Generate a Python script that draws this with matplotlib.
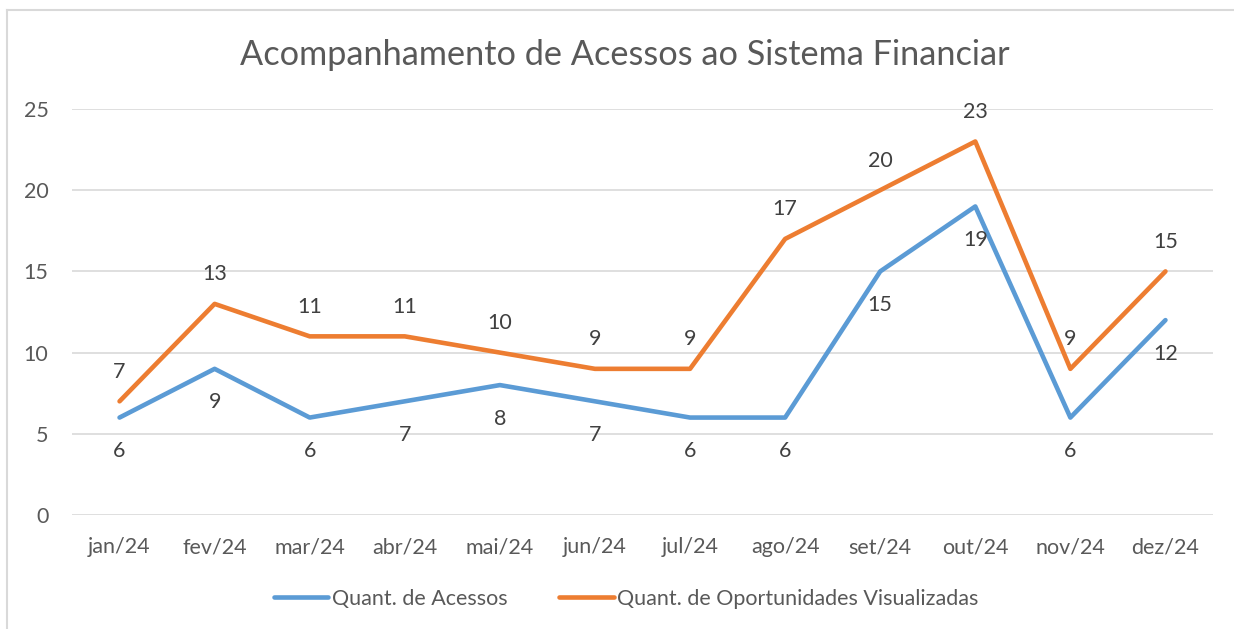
import matplotlib.pyplot as plt
from matplotlib.lines import Line2D

meses = ['jan/24', 'fev/24', 'mar/24', 'abr/24', 'mai/24', 'jun/24',
         'jul/24', 'ago/24', 'set/24', 'out/24', 'nov/24', 'dez/24']
acessos = [6, 9, 6, 7, 8, 7, 6, 6, 15, 19, 6, 12]
oportunidades = [7, 13, 11, 11, 10, 9, 9, 17, 20, 23, 9, 15]

azul = '#5B9BD5'
laranja = '#ED7D31'
cinza = '#595959'

plt.rcParams['font.family'] = ['Lato', 'DejaVu Sans']

fig = plt.figure(figsize=(12.34, 6.29), dpi=100)
ax = fig.add_axes([72 / 1234, 1 - 515 / 629, 1141 / 1234, 406 / 629])

x = list(range(len(meses)))
ax.plot(x, acessos, color=azul, lw=3.3, solid_capstyle='round',
        solid_joinstyle='round', label='Quant. de Acessos', zorder=3)
ax.plot(x, oportunidades, color=laranja, lw=3.3, solid_capstyle='round',
        solid_joinstyle='round', label='Quant. de Oportunidades Visualizadas', zorder=3)

for i in x:
    ax.annotate(str(acessos[i]), (i, acessos[i]), xytext=(0, -17), textcoords='offset points',
                ha='center', va='top', fontsize=15.5, color='#404040')
    ax.annotate(str(oportunidades[i]), (i, oportunidades[i]), xytext=(0, 14), textcoords='offset points',
                ha='center', va='bottom', fontsize=15.5, color='#404040')

ax.set_xlim(-0.5, 11.5)
ax.set_ylim(0, 25)
ax.set_yticks([0, 5, 10, 15, 20, 25])
ax.set_xticks(x)
ax.set_xticklabels(meses)
ax.grid(axis='y', color='#D9D9D9', lw=1.2, zorder=0)
for s in ax.spines.values():
    s.set_visible(False)
ax.tick_params(length=0, labelsize=15.5, colors=cinza, pad=16)
ax.tick_params(axis='y', pad=17)

fig.text(625 / 1234, 1 - 55 / 629, 'Acompanhamento de Acessos ao Sistema Financiar',
         ha='center', va='center', fontsize=24.7, color=cinza)

leg = fig.legend(loc='center', bbox_to_anchor=(626 / 1234, 1 - 599 / 629), ncol=2, frameon=False,
                 fontsize=15.5, handlelength=2.55, handletextpad=0.15, columnspacing=2.4)
for t in leg.get_texts():
    t.set_color(cinza)

fig.add_artist(Line2D([7 / 1234, 7 / 1234], [0, 1 - 10 / 629], color='#D9D9D9', lw=1.5))
fig.add_artist(Line2D([7 / 1234, 1], [1 - 10 / 629, 1 - 10 / 629], color='#D9D9D9', lw=1.5))

fig.savefig('out.png', dpi=100)
